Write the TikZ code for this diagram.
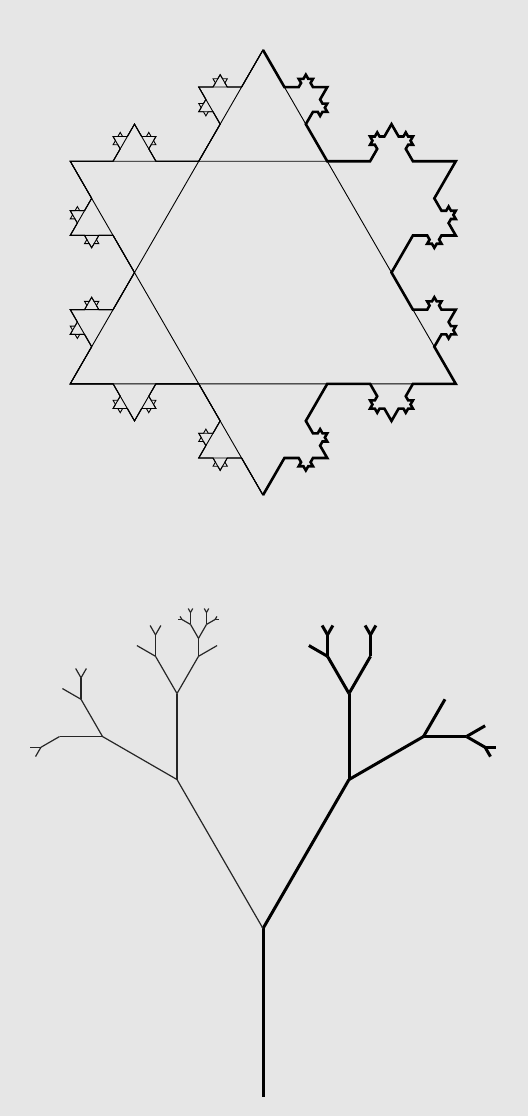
\documentclass[tikz,border=0pt]{standalone}
\usetikzlibrary{lindenmayersystems}
\pgfdeclarelindenmayersystem{kochside}{
  \symbol{A}{\pgflsystemdrawforward}
  \symbol{B}{\pgflsystemdrawforward}
  \rule{A -> B+A--A+B}
  \rule{B -> BBB}
}
\definecolor{bg}{RGB}{230,230,230}
\newcommand{\brn}[5]{\draw[#1] (#2) -- ++(#3:#4pt) coordinate (#5);}
\begin{document}
\begin{tikzpicture}[x=1pt,y=1pt,
  thinline/.style={line width=0.9pt,black},
  thickline/.style={line width=2.6pt,black},
  thintree/.style={line width=1.2pt,black!85},
  thicktree/.style={line width=3pt,black}]
\fill[bg] (0,0) rectangle (528,1116);
\useasboundingbox (0,0) rectangle (528,1116);
% ---------- Koch star ----------
\coordinate (top) at (263,1066);
\coordinate (bl) at (70.25,732.15);
\coordinate (br) at (455.75,732.15);
\coordinate (dtl) at (70.25,954.7);
\coordinate (dtm) at (327.25,954.7);
\coordinate (bot) at (263,620.9);
\draw[thinline] (top) -- (bl) -- (br) -- cycle;
\draw[thinline] (dtm) -- (dtl) -- (bot);
\begin{scope}[shift={(bot)}]
  \draw[thinline,lindenmayer system={kochside, axiom=++A+A--A+A--A+A, order=1, step=42.8333pt, angle=60}] (0,0) lindenmayer system;
  \draw[thinline,lindenmayer system={kochside, axiom=++A+A--A+A--A+A, order=2, step=14.2778pt, angle=60}] (0,0) lindenmayer system;
  \draw[thinline,lindenmayer system={kochside, axiom=++A+A--A+A--A+A, order=3, step=4.7593pt, angle=60}] (0,0) lindenmayer system;
\end{scope}
\begin{scope}[shift={(top)}]
  \draw[thickline,lindenmayer system={kochside, axiom=-A+A--A+A--A+A, order=3, step=4.7593pt, angle=60}] (0,0) lindenmayer system;
\end{scope}
% ---------- Tree ----------
\coordinate (root) at (263,19);
\coordinate (n0) at (263,187.5);
\draw[thicktree] (root) -- (n0);
% thick right half
\brn{thicktree}{n0}{60}{172}{R1}
\brn{thicktree}{R1}{90}{86}{Ra}
\brn{thicktree}{R1}{30}{86}{Rb}
\brn{thicktree}{Ra}{120}{43}{RaL}
\brn{thicktree}{Ra}{60}{43}{RaR}
\brn{thicktree}{RaL}{150}{21.5}{RaLl}
\brn{thicktree}{RaL}{90}{21.5}{RaLu}
\brn{thicktree}{RaLu}{120}{10.75}{RaLua}
\brn{thicktree}{RaLu}{60}{10.75}{RaLub}
\brn{thicktree}{RaR}{90}{21.5}{RaRu}
\brn{thicktree}{RaRu}{120}{10.75}{RaRua}
\brn{thicktree}{RaRu}{60}{10.75}{RaRub}
\brn{thicktree}{Rb}{60}{43}{Rbu}
\brn{thicktree}{Rb}{0}{43}{Rbr}
\brn{thicktree}{Rbr}{30}{21.5}{Rbru}
\brn{thicktree}{Rbr}{-30}{21.5}{Rbrd}
\brn{thicktree}{Rbrd}{0}{10.75}{Rbrda}
\brn{thicktree}{Rbrd}{-60}{10.75}{Rbrdb}
% thin left half
\brn{thintree}{n0}{120}{172}{L1}
\brn{thintree}{L1}{90}{86}{La}
\brn{thintree}{L1}{150}{86}{Lb}
\brn{thintree}{La}{120}{43}{LaL}
\brn{thintree}{La}{60}{43}{LaR}
\brn{thintree}{LaL}{150}{21.5}{LaLl}
\brn{thintree}{LaL}{90}{21.5}{LaLu}
\brn{thintree}{LaLu}{120}{10.75}{LaLua}
\brn{thintree}{LaLu}{60}{10.75}{LaLub}
\brn{thintree}{LaR}{30}{21.5}{LaRr}
\brn{thintree}{LaR}{90}{18}{LaRu}
\brn{thintree}{LaRu}{120}{16}{c1}
\brn{thintree}{LaRu}{60}{16}{c2}
\brn{thintree}{c1}{150}{10}{c11}
\brn{thintree}{c1}{90}{12}{c12}
\brn{thintree}{c2}{90}{12}{c21}
\brn{thintree}{c2}{30}{10}{c22}
\brn{thintree}{c11}{180}{3.5}{c111}
\brn{thintree}{c11}{120}{3.5}{c112}
\brn{thintree}{c12}{120}{4.5}{c121}
\brn{thintree}{c12}{60}{4.5}{c122}
\brn{thintree}{c21}{120}{4.5}{c211}
\brn{thintree}{c21}{60}{4.5}{c212}
\brn{thintree}{c22}{60}{3.5}{c221}
\brn{thintree}{c22}{0}{3.5}{c222}
\brn{thintree}{Lb}{120}{43}{Lbu}
\brn{thintree}{Lb}{180}{43}{Lbl}
\brn{thintree}{Lbu}{150}{21.5}{Lbul}
\brn{thintree}{Lbu}{90}{21.5}{Lbuu}
\brn{thintree}{Lbuu}{120}{10.75}{Lbuua}
\brn{thintree}{Lbuu}{60}{10.75}{Lbuub}
\brn{thintree}{Lbl}{210}{21.5}{Lbld}
\brn{thintree}{Lbld}{180}{10.75}{Lblda}
\brn{thintree}{Lbld}{240}{10.75}{Lbldb}
\end{tikzpicture}
\end{document}
